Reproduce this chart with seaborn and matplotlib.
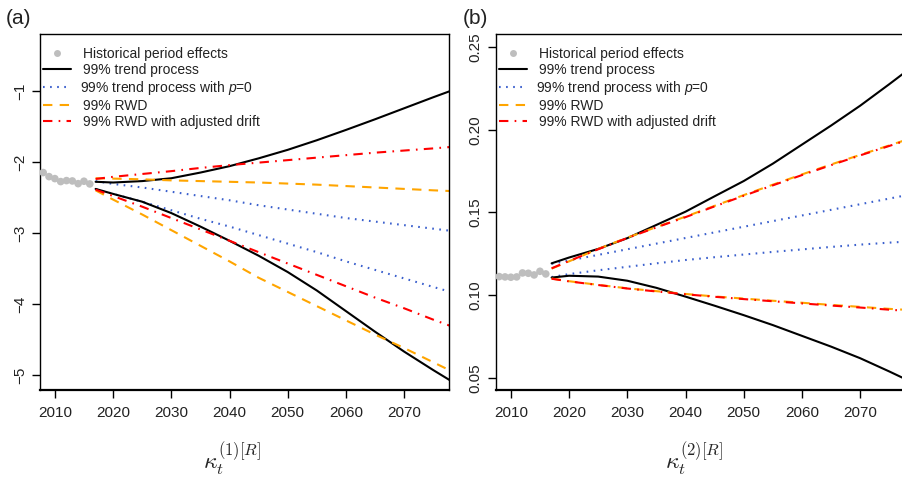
import matplotlib
matplotlib.use("Agg")
import matplotlib.pyplot as plt
from matplotlib.lines import Line2D
import pandas as pd
import seaborn as sns

# ---- data -------------------------------------------------------------
hist_years = [2008, 2009, 2010, 2011, 2012, 2013, 2014, 2015, 2016]
fc_years = [2017, 2020, 2025, 2030, 2035, 2040, 2045, 2050, 2055, 2060,
            2065, 2070, 2075, 2078]

# kappa(1): historical values and 99% forecast bounds
k1_hist = [-2.15, -2.207, -2.235, -2.277, -2.263, -2.268, -2.306, -2.272, -2.31]
k1_trend_hi = [-2.28, -2.29, -2.27, -2.23, -2.15, -2.06, -1.95, -1.83, -1.695,
               -1.55, -1.40, -1.245, -1.09, -1.00]
k1_trend_lo = [-2.38, -2.45, -2.56, -2.72, -2.91, -3.11, -3.32, -3.55, -3.81,
               -4.10, -4.39, -4.67, -4.93, -5.08]
k1_p0_hi = [-2.27, -2.31, -2.36, -2.42, -2.48, -2.54, -2.61, -2.67, -2.73,
            -2.79, -2.84, -2.89, -2.94, -2.97]
k1_p0_lo = [-2.38, -2.45, -2.56, -2.68, -2.80, -2.91, -3.03, -3.15, -3.27,
            -3.40, -3.52, -3.64, -3.76, -3.83]
k1_rwd_hi = [-2.23, -2.235, -2.245, -2.26, -2.27, -2.28, -2.29, -2.305, -2.32,
             -2.34, -2.36, -2.38, -2.40, -2.41]
k1_rwd_lo = [-2.40, -2.53, -2.74, -2.96, -3.18, -3.40, -3.63, -3.83, -4.03,
             -4.23, -4.43, -4.62, -4.82, -4.94]
k1_adj_hi = [-2.24, -2.21, -2.17, -2.13, -2.085, -2.045, -2.01, -1.975, -1.94,
             -1.905, -1.87, -1.84, -1.81, -1.79]
k1_adj_lo = [-2.39, -2.48, -2.63, -2.79, -2.95, -3.11, -3.27, -3.43, -3.59,
             -3.75, -3.91, -4.06, -4.22, -4.31]

# kappa(2): historical values and 99% forecast bounds
k2_hist = [0.1113, 0.1111, 0.1109, 0.1111, 0.1135, 0.1133, 0.1123, 0.1145, 0.1129]
k2_trend_hi = [0.1193, 0.1228, 0.1280, 0.1345, 0.1425, 0.1505, 0.1598, 0.1690,
               0.1795, 0.1910, 0.2025, 0.2145, 0.2275, 0.2355]
k2_trend_lo = [0.1107, 0.1118, 0.1113, 0.1088, 0.1045, 0.0992, 0.0937, 0.0880,
               0.0820, 0.0755, 0.0690, 0.0620, 0.0540, 0.0490]
k2_p0_hi = [0.1190, 0.1210, 0.1244, 0.1278, 0.1312, 0.1346, 0.1380, 0.1414,
            0.1448, 0.1482, 0.1516, 0.1550, 0.1584, 0.1605]
k2_p0_lo = [0.1110, 0.1128, 0.1151, 0.1172, 0.1193, 0.1213, 0.1230, 0.1246,
            0.1262, 0.1277, 0.1292, 0.1306, 0.1318, 0.1324]
k2_rwd_hi = [0.1161, 0.1205, 0.1280, 0.1348, 0.1412, 0.1475, 0.1540, 0.1605,
             0.1668, 0.1730, 0.1790, 0.1848, 0.1905, 0.1940]
k2_rwd_lo = [0.1101, 0.1085, 0.1063, 0.1042, 0.1025, 0.1008, 0.0993, 0.0980,
             0.0967, 0.0955, 0.0942, 0.0930, 0.0918, 0.0912]
k2_adj_hi = [0.1163, 0.1207, 0.1278, 0.1346, 0.1410, 0.1472, 0.1537, 0.1601,
             0.1664, 0.1726, 0.1786, 0.1845, 0.1902, 0.1936]
k2_adj_lo = [0.1100, 0.1084, 0.1062, 0.1041, 0.1023, 0.1006, 0.0991, 0.0977,
             0.0964, 0.0951, 0.0938, 0.0926, 0.0913, 0.0906]

x_ticks = [2010, 2020, 2030, 2040, 2050, 2060, 2070]
k1_ticks = [-5, -4, -3, -2, -1]
k2_ticks = [0.05, 0.10, 0.15, 0.20, 0.25]
legend_labels = ["Historical period effects", "99% trend process",
                 "99% trend process with $p$=0", "99% RWD",
                 "99% RWD with adjusted drift"]

# ---- styling -----------------------------------------------------------
sns.set_theme(style="ticks")
plt.rcParams["font.family"] = ["Liberation Sans", "DejaVu Sans"]
plt.rcParams["mathtext.fontset"] = "custom"
plt.rcParams["mathtext.rm"] = "Liberation Sans"
plt.rcParams["mathtext.it"] = "Liberation Sans:italic"

GRAY = "#BEBEBE"
BLACK = "#000000"
BLUE = "#3A5FCD"
ORANGE = "#FFA500"
RED = "#FF0000"
TEXT = "#222222"
LW = 1.5
DOT = (0, (0.8, 2.6))
DASH = (0, (4.5, 3.5))
DASHDOT = (0, (4.5, 3.0, 0.8, 3.0))

series_style = {
    "trend": dict(color=BLACK, linestyle="-"),
    "p0": dict(color=BLUE, linestyle=DOT),
    "rwd": dict(color=ORANGE, linestyle=DASH),
    "adj": dict(color=RED, linestyle=DASHDOT),
}

fig = plt.figure(figsize=(9.02, 4.84), dpi=100)
W, H = 902, 484
AX_H = 390 - 34
ax_a = fig.add_axes([40 / W, 1 - 390 / H, (449 - 40) / W, AX_H / H])
ax_b = fig.add_axes([496 / W, 1 - 390 / H, (905 - 496) / W, AX_H / H])


def draw_panel(ax, hist, bounds, ylim, yticks, ytick_labels):
    hist_df = pd.DataFrame({"year": hist_years, "value": hist})
    sns.scatterplot(data=hist_df, x="year", y="value", ax=ax, color=GRAY,
                    s=30, edgecolor="none", zorder=3)
    for key in ["p0", "trend", "rwd", "adj"]:
        for vals in bounds[key]:
            df = pd.DataFrame({"year": fc_years, "value": vals})
            sns.lineplot(data=df, x="year", y="value", ax=ax, lw=LW,
                         estimator=None, sort=True, **series_style[key])
    ax.set_xlim(2007.45, 2077.7)
    ax.set_ylim(*ylim)
    ax.set_xticks(x_ticks)
    ax.set_xticklabels([str(t) for t in x_ticks])
    ax.set_yticks(yticks)
    ax.set_yticklabels(ytick_labels, rotation=90, va="center")
    ax.set_xlabel("")
    ax.set_ylabel("")
    for sp in ax.spines.values():
        sp.set_visible(True)
        sp.set_color("black")
        sp.set_linewidth(1.0)
    ax.spines["bottom"].set_linewidth(1.6)
    ax.tick_params(axis="both", direction="out", length=5.5, width=1.0,
                   colors="black", labelsize=11, labelcolor=TEXT)
    ax.tick_params(axis="x", pad=6)
    ax.tick_params(axis="y", pad=4)

    handles = [
        Line2D([], [], marker="o", linestyle="none", color=GRAY,
               markersize=5, markeredgecolor="none"),
        Line2D([], [], color=BLACK, lw=LW),
        Line2D([], [], color=BLUE, lw=LW, linestyle=DOT),
        Line2D([], [], color=ORANGE, lw=LW, linestyle=DASH),
        Line2D([], [], color=RED, lw=LW, linestyle=DASHDOT),
    ]
    leg = ax.legend(handles, legend_labels, loc="upper left",
                    bbox_to_anchor=(-2 / 409, 1 - 8 / AX_H), frameon=False,
                    fontsize=10, handlelength=2.0, handletextpad=0.86,
                    labelspacing=0.15, borderaxespad=0.0, borderpad=0.35)
    for t in leg.get_texts():
        t.set_color(TEXT)
    # the mixed-math label is laid out a few pixels to the right; pull it back
    leg.get_texts()[2].set_x(-3)


draw_panel(ax_a, k1_hist,
           {"trend": [k1_trend_hi, k1_trend_lo], "p0": [k1_p0_hi, k1_p0_lo],
            "rwd": [k1_rwd_hi, k1_rwd_lo], "adj": [k1_adj_hi, k1_adj_lo]},
           (-5.21, -0.2), k1_ticks,
           ["\u22125", "\u22124", "\u22123", "\u22122", "\u22121"])
draw_panel(ax_b, k2_hist,
           {"trend": [k2_trend_hi, k2_trend_lo], "p0": [k2_p0_hi, k2_p0_lo],
            "rwd": [k2_rwd_hi, k2_rwd_lo], "adj": [k2_adj_hi, k2_adj_lo]},
           (0.0428, 0.2578), k2_ticks, ["0.05", "0.10", "0.15", "0.20", "0.25"])

fig.text(6 / W, 1 - 18 / H, "(a)", fontsize=15, ha="left", va="center",
         color=TEXT)
fig.text(463 / W, 1 - 18 / H, "(b)", fontsize=15, ha="left", va="center",
         color=TEXT)
fig.text(232 / W, 1 - 459 / H, r"$\kappa_t^{(1)[R]}$", fontsize=17,
         ha="center", va="center", math_fontfamily="cm")
fig.text(694 / W, 1 - 459 / H, r"$\kappa_t^{(2)[R]}$", fontsize=17,
         ha="center", va="center", math_fontfamily="cm")

fig.savefig("out.png", dpi=100)
